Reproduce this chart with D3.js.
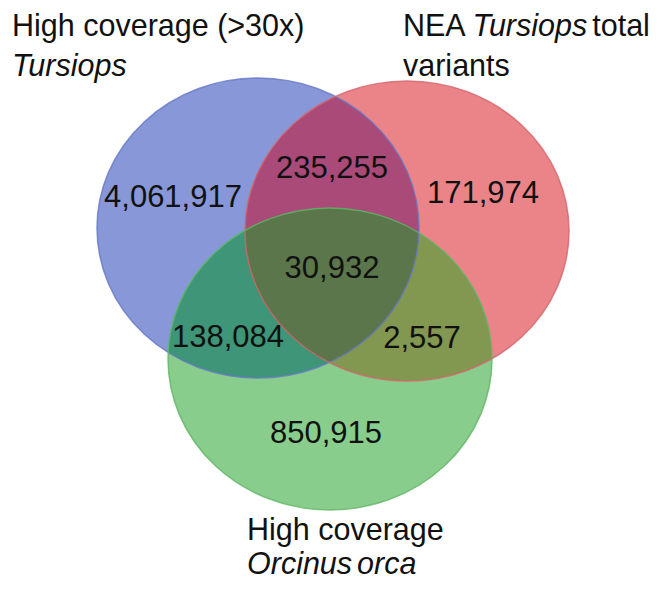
<!DOCTYPE html>
<html><head><meta charset="utf-8">
<script src="https://cdn.jsdelivr.net/npm/d3@7"></script>
<style>body{margin:0;background:#fff}svg{display:block}text{font-family:"Liberation Sans",Arial,sans-serif}</style>
</head><body><svg id="c" width="660" height="589"></svg>
<script>
// ---- data ----
const setKeys = ["tursiops30x", "neaTursiops", "orca"];
const regionKeys = ["A", "B", "C", "AB", "AC", "BC", "ABC"];
const regionCounts = [4061917, 171974, 850915, 235255, 138084, 2557, 30932];

// ---- layout (positions / styles) ----
const ell = {
  tursiops30x: {cx: 258, cy: 228, rx: 161, ry: 150, fill: "#8797d7", stroke: "#6477c4"},
  neaTursiops: {cx: 407, cy: 231, rx: 162, ry: 150, fill: "#ea8489", stroke: "#d2646a"},
  orca:        {cx: 330, cy: 359, rx: 162, ry: 151, fill: "#88cd8b", stroke: "#5fb565"}
};
const overlapFill = {AB: "#a94a79", AC: "#3e9577", BC: "#82974f", ABC: "#5b764a"};
const regionPos = {
  A: [173, 207], B: [483, 203], C: [326, 443], AB: [332, 178],
  AC: [228, 347], BC: [422, 348], ABC: [332, 278]
};
const fmt = d3.format(",");

const svg = d3.select("#c");
const defs = svg.append("defs");
const keyOf = {A: "tursiops30x", B: "neaTursiops", C: "orca"};
Object.entries(keyOf).forEach(([k, s]) => {
  const e = ell[s];
  defs.append("clipPath").attr("id", "clip" + k)
    .append("ellipse").attr("cx", e.cx).attr("cy", e.cy).attr("rx", e.rx).attr("ry", e.ry);
});

svg.append("g").selectAll("ellipse").data(setKeys).join("ellipse")
  .attr("cx", d => ell[d].cx).attr("cy", d => ell[d].cy)
  .attr("rx", d => ell[d].rx).attr("ry", d => ell[d].ry)
  .attr("fill", d => ell[d].fill);

function overlap(parts, fill) {
  let inner = svg.append("g");
  parts.forEach(p => { inner = inner.append("g").attr("clip-path", `url(#clip${p})`); });
  inner.append("rect").attr("x", 0).attr("y", 0).attr("width", 660).attr("height", 589).attr("fill", fill);
}
overlap(["A", "B"], overlapFill.AB);
overlap(["A", "C"], overlapFill.AC);
overlap(["B", "C"], overlapFill.BC);
overlap(["A", "B", "C"], overlapFill.ABC);

svg.append("g").selectAll("ellipse").data(setKeys).join("ellipse")
  .attr("cx", d => ell[d].cx).attr("cy", d => ell[d].cy)
  .attr("rx", d => ell[d].rx).attr("ry", d => ell[d].ry)
  .attr("fill", "none").attr("stroke", d => ell[d].stroke).attr("stroke-width", 1.5).attr("stroke-opacity", 0.8);

svg.append("g").selectAll("text").data(regionKeys).join("text")
  .attr("x", d => regionPos[d][0]).attr("y", d => regionPos[d][1])
  .attr("text-anchor", "middle").attr("font-size", 31).attr("fill", "#111")
  .text((d, i) => fmt(regionCounts[i]));

const labels = [
  {x: 12, y: 36, parts: [["High coverage (>30x)", "normal"]]},
  {x: 12, y: 76, parts: [["Tursiops", "italic"]]},
  {x: 403, y: 36, parts: [["NEA ", "normal"], ["Tursiops", "italic"], ["total", "normal"]]},
  {x: 403, y: 76, parts: [["variants", "normal"]]},
  {x: 247, y: 540, parts: [["High coverage", "normal"]]},
  {x: 247, y: 574, parts: [["Orcinus", "italic"], ["orca", "italic"]]}
];
const lg = svg.append("g");
labels.forEach(l => {
  const t = lg.append("text").attr("x", l.x).attr("y", l.y).attr("font-size", 30.5).attr("fill", "#111");
  l.parts.forEach((p, i) => t.append("tspan").attr("font-style", p[1])
    .attr("dx", i > 0 && l.parts[i-1][0].slice(-1) !== " " ? 5 : 0).text(p[0]));
});
</script></body></html>
